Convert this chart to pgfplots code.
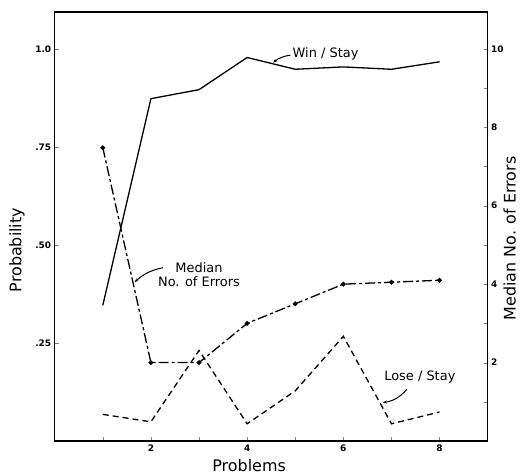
\documentclass[border=0pt]{standalone}
\usepackage{fontspec}
\setmainfont{DejaVu Sans}
\usepackage{pgfplots}
\pgfplotsset{compat=1.18}
\usetikzlibrary{arrows.meta}

\pgfplotstableread{
x winstay losestay
1 0.346 0.068
2 0.873 0.049
3 0.896 0.231
4 0.978 0.044
5 0.948 0.128
6 0.954 0.267
7 0.948 0.044
8 0.967 0.074
}\probdata

\pgfplotstableread{
x errors
1 7.48
2 2.0
3 2.0
4 3.0
5 3.5
6 4.0
7 4.05
8 4.1
}\errdata

\begin{document}
\begin{tikzpicture}
\begin{axis}[
  scale only axis, width=433bp, height=429bp,
  xmin=0, xmax=9, ymin=0, ymax=1.094,
  xtick={1,2,3,4,5,6,7,8}, xticklabels={,2,,4,,6,,8},
  ytick={0.25,0.5,0.75,1.0}, yticklabels={.25,.50,.75,1.0},
  xtick pos=bottom, ytick pos=left,
  tick align=inside, major tick length=4bp,
  /pgf/number format/assume math mode=true,
  tick label style={font=\fontsize{9}{9}\selectfont\bfseries},
  axis line style={line width=1.4bp},
  xlabel={Problems}, ylabel={Probability},
  label style={font=\fontsize{16}{16}\selectfont},
  xlabel style={at={(axis description cs:0.449,-0.057)}, anchor=center},
  ylabel style={at={(axis description cs:-0.087,0.445)}, anchor=center},
  clip=false,
]
\addplot[black, line width=1.3bp, mark=none] table[x=x, y=winstay] {\probdata};
\addplot[black, line width=1.3bp, mark=none, dash pattern=on 6bp off 4bp] table[x=x, y=losestay] {\probdata};
\node[font=\fontsize{13}{13}\selectfont] at (axis cs:5.63,0.986) {Win / Stay};
\draw[-{Stealth[length=4bp]}, line width=1bp] (axis cs:4.90,0.984) to[bend right=15] (axis cs:4.54,0.965);
\node[font=\fontsize{13}{14}\selectfont, align=center] at (axis cs:3.0,0.425) {Median\\No. of Errors};
\draw[-{Stealth[length=4bp]}, line width=1bp] (axis cs:2.25,0.442) to[bend right=15] (axis cs:1.66,0.405);
\node[font=\fontsize{13}{13}\selectfont] at (axis cs:7.59,0.162) {Lose / Stay};
\draw[-{Stealth[length=4bp]}, line width=1bp] (axis cs:7.32,0.132) to[bend left=20] (axis cs:6.82,0.098);
\path (axis description cs:-0.1263,-0.0777) rectangle (axis description cs:1.0746,1.028);
\end{axis}
\begin{axis}[
  scale only axis, width=433bp, height=429bp,
  xmin=0, xmax=9, ymin=0, ymax=10.94,
  axis x line=none, axis y line*=right,
  ytick={1,2,3,4,5,6,7,8,9,10}, yticklabels={,2,,4,,6,,8,,10},
  tick align=inside, major tick length=4bp,
  /pgf/number format/assume math mode=true,
  tick label style={font=\fontsize{9}{9}\selectfont\bfseries},
  axis line style={line width=1.4bp},
  ylabel={Median No. of Errors},
  label style={font=\fontsize{16}{16}\selectfont},
  ylabel style={at={(axis description cs:1.051,0.472)}, anchor=center, rotate=0},
  clip=false,
]
\addplot[black, line width=1.3bp, dash pattern=on 10bp off 3bp on 3bp off 3bp, mark=*, mark size=1.7bp, mark options={solid}] table[x=x, y=errors] {\errdata};
\end{axis}
\end{tikzpicture}
\end{document}
